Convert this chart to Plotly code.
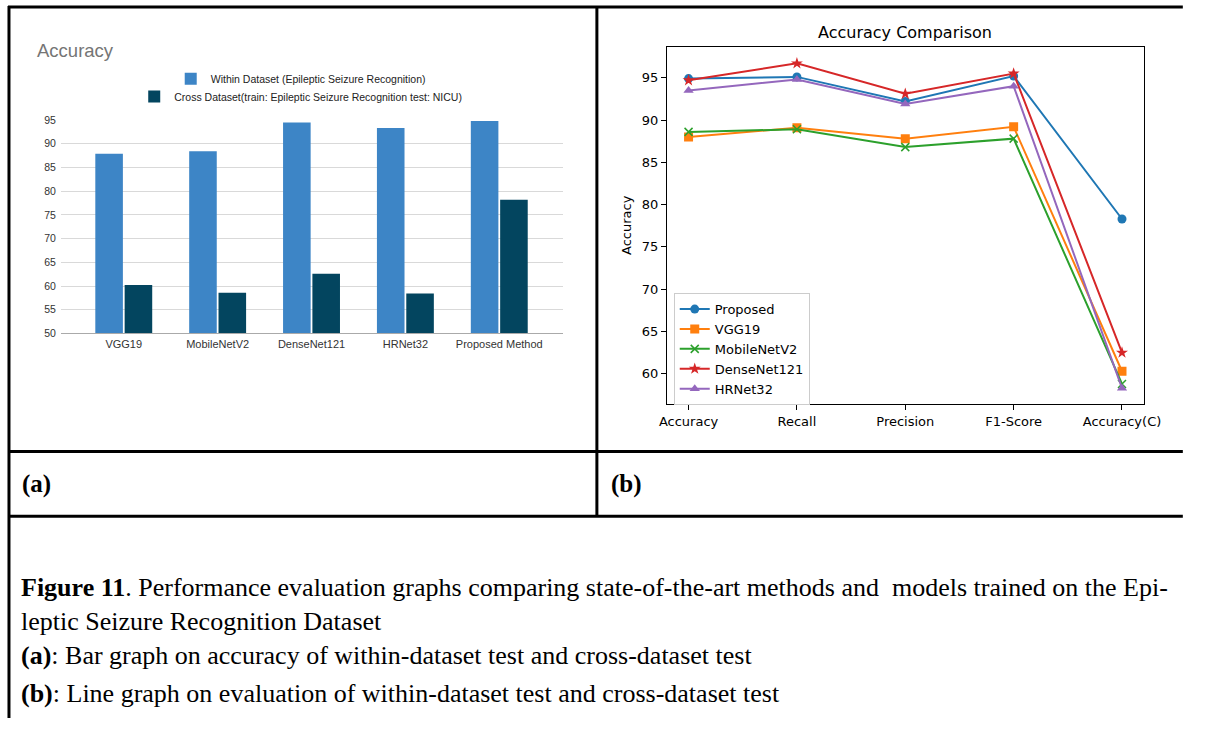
import plotly.graph_objects as go

# The page keeps the browser's default 8px body margin, so the figure is sized to
# fit inside the 1208x734 window and reference pixel positions are offset by 8px.
OX, OY = 8, 8
W, H = 1192, 718

# ---------------- data ----------------
bar_categories = ["VGG19", "MobileNetV2", "DenseNet121", "HRNet32", "Proposed Method"]
within_acc = [87.9, 88.4, 94.5, 93.3, 94.8]
cross_acc = [60.2, 58.6, 62.6, 58.4, 78.2]
bar_ticks = [50, 55, 60, 65, 70, 75, 80, 85, 90, 95]

metrics = ["Accuracy", "Recall", "Precision", "F1-Score", "Accuracy(C)"]
proposed = [94.9, 95.1, 92.2, 95.2, 78.3]
vgg19 = [88.0, 89.1, 87.8, 89.2, 60.3]
mobilenetv2 = [88.6, 88.9, 86.8, 87.8, 58.8]
densenet121 = [94.7, 96.7, 93.1, 95.5, 62.5]
hrnet32 = [93.5, 94.8, 91.9, 94.0, 58.3]
line_ticks = [60, 65, 70, 75, 80, 85, 90, 95]

caption_lines = [
    "<b>Figure 11</b>. Performance evaluation graphs comparing state-of-the-art methods and  models trained on the Epi-",
    "leptic Seizure Recognition Dataset",
    "<b>(a)</b>: Bar graph on accuracy of within-dataset test and cross-dataset test",
    "<b>(b)</b>: Line graph on evaluation of within-dataset test and cross-dataset test",
]


def px(x):
    return (x - OX) / W


def py(y):
    return (H - (y - OY)) / H


fig = go.Figure()

# ---------------- bar chart (a) ----------------
fig.add_trace(go.Bar(
    x=bar_categories, y=within_acc, name="Within Dataset (Epileptic Seizure Recognition)",
    marker=dict(color="#3d85c6", line=dict(width=0)), xaxis="x", yaxis="y", legend="legend2",
))
fig.add_trace(go.Bar(
    x=bar_categories, y=cross_acc, name="Cross Dataset(train: Epileptic Seizure Recognition test: NICU)",
    marker=dict(color="#03455f", line=dict(width=0)), xaxis="x", yaxis="y", legend="legend3",
))

# ---------------- line chart (b) ----------------
series = [
    ("Proposed", proposed, "#1f77b4", dict(symbol="circle", size=9)),
    ("VGG19", vgg19, "#ff7f0e", dict(symbol="square", size=9)),
    ("MobileNetV2", mobilenetv2, "#2ca02c", dict(symbol="x-thin", size=8)),
    ("DenseNet121", densenet121, "#d62728", dict(symbol="star", size=9)),
    ("HRNet32", hrnet32, "#9467bd", dict(symbol="triangle-up", size=9)),
]
for name, vals, color, mk in series:
    marker = dict(color=color, **mk)
    if mk["symbol"] == "x-thin":
        marker["line"] = dict(width=1.5, color=color)
    else:
        marker["line"] = dict(width=0)
    fig.add_trace(go.Scatter(
        x=metrics, y=vals, name=name, mode="lines+markers",
        line=dict(color=color, width=2), marker=marker,
        xaxis="x2", yaxis="y2", legend="legend",
    ))

sans = "Liberation Sans, Arial, sans-serif"
dv = "DejaVu Sans, sans-serif"
serif = "Liberation Serif, Times New Roman, serif"

fig.update_layout(
    width=W, height=H,
    margin=dict(l=0, r=0, t=0, b=0),
    paper_bgcolor="white", plot_bgcolor="white",
    barmode="group", bargap=0.375, bargroupgap=0.06,
    xaxis=dict(
        domain=[px(62), px(575)], anchor="y", type="category",
        range=[-0.67, 4.68], showgrid=False, ticks="",
        showline=True, linecolor="#aaaaaa", linewidth=1,
        tickfont=dict(family=sans, size=11, color="#333333"),
    ),
    yaxis=dict(
        domain=[py(341), py(124)], anchor="x", range=[50, 95],
        tickvals=bar_ticks, showgrid=True, gridcolor="#d9d9d9", gridwidth=1,
        zeroline=False, showline=False, ticks="",
        ticklabelstandoff=4,
        tickfont=dict(family=sans, size=10.5, color="#333333"),
    ),
    xaxis2=dict(
        domain=[px(681), px(1168)], anchor="y2", type="category",
        range=[-0.2, 4.2], showgrid=False,
        showline=True, mirror=True, linecolor="black", linewidth=1,
        ticks="outside", ticklen=5, tickcolor="black", tickwidth=1,
        tickfont=dict(family=dv, size=13, color="black"),
    ),
    yaxis2=dict(
        domain=[py(413), py(50)], anchor="x2", range=[56.4, 98.6],
        tickvals=line_ticks, showgrid=False, zeroline=False,
        showline=True, mirror=True, linecolor="black", linewidth=1,
        ticks="outside", ticklen=5, tickcolor="black", tickwidth=1,
        tickfont=dict(family=dv, size=13, color="black"),
    ),
    legend=dict(
        x=px(688), y=py(300), xanchor="left", yanchor="top",
        bordercolor="#cccccc", borderwidth=1, bgcolor="rgba(255,255,255,0.85)",
        font=dict(family=dv, size=13, color="black"),
    ),
    legend2=dict(
        x=px(307), y=py(82), xanchor="center", yanchor="middle",
        bgcolor="rgba(0,0,0,0)", itemwidth=30,
        font=dict(family=sans, size=10.5, color="#222222"),
    ),
    legend3=dict(
        x=px(307), y=py(100), xanchor="center", yanchor="middle",
        bgcolor="rgba(0,0,0,0)", itemwidth=30,
        font=dict(family=sans, size=10.5, color="#222222"),
    ),
    showlegend=True,
)

annotations = [
    dict(text="Accuracy", x=px(36), y=py(53), xanchor="left", yanchor="middle",
         font=dict(family=sans, size=18.5, color="#757575")),
    dict(text="Accuracy Comparison", x=px(924), y=py(35), xanchor="center", yanchor="middle",
         font=dict(family=dv, size=16, color="black")),
    dict(text="Accuracy", x=px(640), y=py(231), xanchor="center", yanchor="middle",
         textangle=-90, font=dict(family=dv, size=13, color="black")),
    dict(text="<b>(a)</b>", x=px(20), y=py(494), xanchor="left", yanchor="middle",
         font=dict(family=serif, size=25, color="black")),
    dict(text="<b>(b)</b>", x=px(622), y=py(494), xanchor="left", yanchor="middle",
         font=dict(family=serif, size=25, color="black")),
]
for txt, yy in zip(caption_lines, [599, 634, 669, 707]):
    annotations.append(dict(text=txt, x=px(19), y=py(yy), xanchor="left", yanchor="middle",
                            font=dict(family=serif, size=26, color="black")))
for a in annotations:
    a.update(xref="paper", yref="paper", showarrow=False)
fig.update_layout(annotations=annotations)

# table borders (left/top edges pulled just inside the figure so they stay visible)
border = dict(color="black", width=3)
left_x = OX + 1.0
top_y = OY + 1.0
shapes = [
    dict(type="line", x0=px(OX), x1=px(1208), y0=py(top_y), y1=py(top_y)),
    dict(type="line", x0=px(left_x), x1=px(left_x), y0=py(OY), y1=py(734)),
    dict(type="line", x0=px(609.5), x1=px(609.5), y0=py(top_y), y1=py(527)),
    dict(type="line", x0=px(OX), x1=px(1208), y0=py(461), y1=py(461)),
    dict(type="line", x0=px(OX), x1=px(1208), y0=py(527), y1=py(527)),
]
for s in shapes:
    s.update(xref="paper", yref="paper", line=border)
fig.update_layout(shapes=shapes)

fig.write_html("out.html")
